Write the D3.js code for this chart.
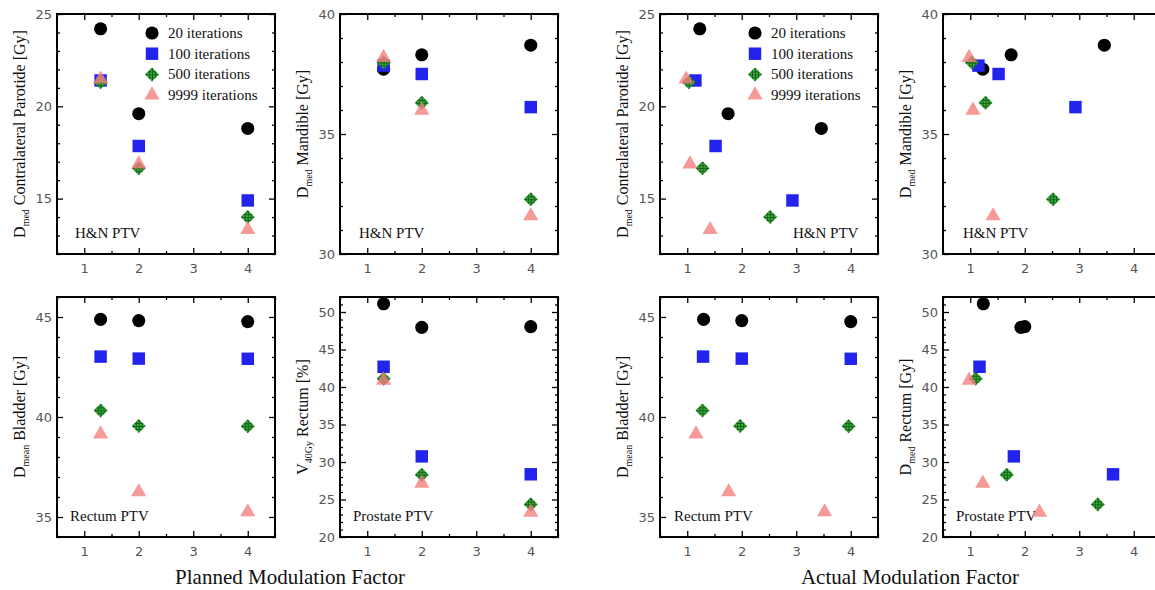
<!DOCTYPE html>
<html>
<head>
<meta charset="utf-8">
<script src="https://cdn.jsdelivr.net/npm/d3@7"></script>
<style>
  html, body { margin: 0; padding: 0; background: #fff; }
  svg { display: block; }
</style>
</head>
<body>
<svg id="chart" width="1155" height="590"></svg>
<script>
// Optimisation runs: iteration count per series
const seriesNames = ["20 iterations", "100 iterations", "500 iterations", "9999 iterations"];

// Planned modulation factor (same for every site)
const plannedMF = [1.3, 2, 4];

// Actual modulation factor per series (rows) for each planned MF (columns)
const hnActualMF       = [[1.23, 1.75, 3.46], [1.15, 1.52, 2.93], [1.03, 1.28, 2.52], [0.98, 1.05, 1.42]];
const rectumActualMF   = [[1.30, 2.00, 4.00], [1.29, 2.00, 4.00], [1.28, 1.97, 3.96], [1.16, 1.76, 3.52]];
const prostateActualMF = [[1.24, 1.93, 2.00], [1.17, 1.80, 3.62], [1.10, 1.67, 3.34], [0.98, 1.23, 2.27]];

// Organ-at-risk metrics per series (rows) for each planned MF (columns)
const parotidDmed  = [[24.2, 19.6, 18.8], [21.4, 17.85, 14.9], [21.3, 16.65, 14.0], [21.55, 16.95, 13.4]];
const mandibleDmed = [[37.7, 38.3, 38.7], [37.85, 37.5, 36.12], [37.98, 36.3, 32.28], [38.25, 36.05, 31.65]];
const bladderDmean = [[44.88, 44.82, 44.77], [43.02, 42.92, 42.91], [40.33, 39.55, 39.54], [39.22, 36.33, 35.33]];
const rectumDose   = [[51.1, 47.95, 48.05], [42.7, 30.75, 28.36], [41.1, 28.3, 24.35], [41.1, 27.35, 23.5]];

// Axis tick values
const xTickValues = [1, 2, 3, 4];
const parotidTicks = [15, 20, 25];
const mandibleTicks = [30, 35, 40];
const bladderTicks = [35, 40, 45];
const rectumTicks = [20, 25, 30, 35, 40, 45, 50];

const svg = d3.select("#chart");
const W = 218, H = 240;
const colors = ["#000000", "#2323ee", "#2a9d2a", "#f47f7f"];
const serif = "'Liberation Serif', 'Times New Roman', serif";
const sans = "'DejaVu Sans', Verdana, sans-serif";

// Cross-hatched fill used by the diamond markers
const defs = svg.append("defs");
const pat = defs.append("pattern").attr("id", "hatch")
  .attr("width", 3).attr("height", 3).attr("patternUnits", "userSpaceOnUse");
pat.append("rect").attr("width", 3).attr("height", 3).attr("fill", "#39b039");
pat.append("rect").attr("width", 3).attr("height", 1).attr("fill", "#14601a");
pat.append("rect").attr("width", 1).attr("height", 3).attr("fill", "#14601a");

const symbolTypes = [d3.symbolCircle, d3.symbolSquare, d3.symbolDiamond2, d3.symbolTriangle];
const symbolSizes = [135, 155, 125, 100];
const fills = [colors[0], colors[1], "url(#hatch)", colors[3]];
const opac = [1, 1, 1, 0.8];

function marker(g, i, x, y) {
  const sym = d3.symbol().type(symbolTypes[i]).size(symbolSizes[i]);
  const dy = i === 3 ? 1.5 : 0;
  g.append("path")
    .attr("d", sym())
    .attr("transform", `translate(${x},${y + dy})`)
    .attr("fill", fills[i])
    .attr("fill-opacity", opac[i]);
}

const panels = [
  { left: 57,  top: 14,  xs: null, ys: parotidDmed,  dom: [12, 25], ticks: parotidTicks,  minor: 1, main: "Contralateral Parotide [Gy]", sub: "med", site: "H&N PTV", siteX: 18, legend: true },
  { left: 340, top: 14,  xs: null, ys: mandibleDmed, dom: [30, 40], ticks: mandibleTicks, minor: 1, main: "Mandible [Gy]", sub: "med", site: "H&N PTV", siteX: 19 },
  { left: 57,  top: 297, xs: null, ys: bladderDmean, dom: [34, 46], ticks: bladderTicks,  minor: 1, main: "Bladder [Gy]", sub: "mean", site: "Rectum PTV", siteX: 13 },
  { left: 340, top: 297, xs: null, ys: rectumDose,   dom: [20, 52], ticks: rectumTicks,   minor: 1, main: "Rectum [%]", pre: "V", sub: "40Gy", site: "Prostate PTV", siteX: 13 },
  { left: 660, top: 14,  xs: hnActualMF,       ys: parotidDmed,  dom: [12, 25], ticks: parotidTicks,  minor: 1, main: "Contralateral Parotide [Gy]", sub: "med", site: "H&N PTV", siteX: 133, legend: true },
  { left: 943, top: 14,  xs: hnActualMF,       ys: mandibleDmed, dom: [30, 40], ticks: mandibleTicks, minor: 1, main: "Mandible [Gy]", sub: "med", site: "H&N PTV", siteX: 20 },
  { left: 660, top: 297, xs: rectumActualMF,   ys: bladderDmean, dom: [34, 46], ticks: bladderTicks,  minor: 1, main: "Bladder [Gy]", sub: "mean", site: "Rectum PTV", siteX: 14 },
  { left: 943, top: 297, xs: prostateActualMF, ys: rectumDose,   dom: [20, 52], ticks: rectumTicks,   minor: 1, main: "Rectum [Gy]", sub: "med", site: "Prostate PTV", siteX: 13 }
];

panels.forEach(p => {
  const g = svg.append("g").attr("transform", `translate(${p.left},${p.top})`);
  const x = d3.scaleLinear().domain([0.5, 4.5]).range([0, W]);
  const y = d3.scaleLinear().domain(p.dom).range([H, 0]);

  const xMinor = d3.range(0.5, 4.51, 0.5).filter(v => !xTickValues.includes(v));
  const yMinor = d3.range(p.dom[0], p.dom[1] + 0.01, p.minor).filter(v => !p.ticks.includes(v));

  // Inward ticks on all four sides
  const tickStyle = sel => sel.call(s => s.select(".domain").remove())
    .call(s => s.selectAll("line").attr("stroke", "#000").attr("stroke-width", 1.3));

  g.append("g").attr("transform", `translate(0,${H})`)
    .call(d3.axisBottom(x).tickValues(xTickValues).tickSize(-6).tickPadding(10).tickFormat(d3.format("d")))
    .call(tickStyle)
    .call(s => s.selectAll("text").attr("font-family", sans).attr("font-size", 13).attr("fill", "#555"));
  g.append("g").attr("transform", `translate(0,${H})`)
    .call(d3.axisBottom(x).tickValues(xMinor).tickSize(-3).tickFormat(""))
    .call(tickStyle);
  g.append("g")
    .call(d3.axisTop(x).tickValues(xTickValues).tickSize(-6).tickFormat(""))
    .call(tickStyle);
  g.append("g")
    .call(d3.axisTop(x).tickValues(xMinor).tickSize(-3).tickFormat(""))
    .call(tickStyle);

  g.append("g")
    .call(d3.axisLeft(y).tickValues(p.ticks).tickSize(-6).tickPadding(5).tickFormat(d3.format("d")))
    .call(tickStyle)
    .call(s => s.selectAll("text").attr("font-family", sans).attr("font-size", 13).attr("fill", "#555"));
  g.append("g")
    .call(d3.axisLeft(y).tickValues(yMinor).tickSize(-3).tickFormat(""))
    .call(tickStyle);
  g.append("g").attr("transform", `translate(${W},0)`)
    .call(d3.axisRight(y).tickValues(p.ticks).tickSize(-6).tickFormat(""))
    .call(tickStyle);
  g.append("g").attr("transform", `translate(${W},0)`)
    .call(d3.axisRight(y).tickValues(yMinor).tickSize(-3).tickFormat(""))
    .call(tickStyle);

  // Frame
  g.append("rect").attr("width", W).attr("height", H)
    .attr("fill", "none").attr("stroke", "#000").attr("stroke-width", 2);

  // Y-axis title with subscript
  const t = g.append("text")
    .attr("transform", `translate(-32,${H / 2}) rotate(-90)`)
    .attr("text-anchor", "middle")
    .attr("font-family", serif).attr("font-size", 16).attr("fill", "#111");
  t.append("tspan").text(p.pre || "D");
  t.append("tspan").attr("font-size", 10).attr("dy", 4).text(p.sub);
  t.append("tspan").attr("dy", -4).text("\u00A0" + p.main);

  // Site annotation
  g.append("text").attr("x", p.siteX).attr("y", H - 16)
    .attr("font-family", serif).attr("font-size", 15).attr("fill", "#111")
    .text(p.site);

  // Data markers
  const mk = g.append("g");
  p.ys.forEach((row, i) => {
    row.forEach((v, j) => {
      const xv = p.xs ? p.xs[i][j] : plannedMF[j];
      marker(mk, i, x(xv), y(v));
    });
  });

  // Legend
  if (p.legend) {
    const lg = g.append("g");
    seriesNames.forEach((name, i) => {
      const ly = 19 + i * 20.7;
      marker(lg, i, 95, ly - (i === 3 ? 1.5 : 0));
      lg.append("text").attr("x", 111).attr("y", ly + 5)
        .attr("font-family", serif).attr("font-size", 15).attr("fill", "#111")
        .text(name);
    });
  }
});

// Shared x-axis titles
svg.append("text").attr("x", 290).attr("y", 584).attr("text-anchor", "middle")
  .attr("font-family", serif).attr("font-size", 21).attr("fill", "#111")
  .text("Planned Modulation Factor");
svg.append("text").attr("x", 910).attr("y", 584).attr("text-anchor", "middle")
  .attr("font-family", serif).attr("font-size", 21).attr("fill", "#111")
  .text("Actual Modulation Factor");
</script>
</body>
</html>
